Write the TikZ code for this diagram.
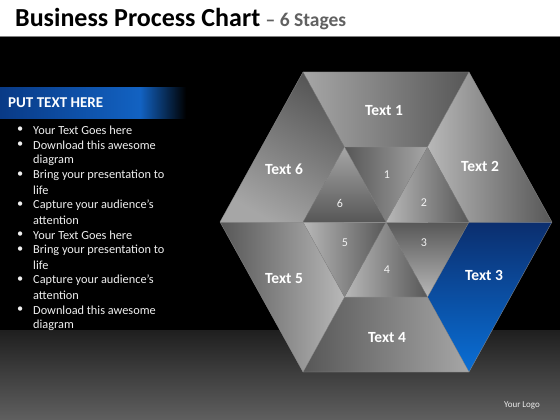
\documentclass[tikz,border=0pt]{standalone}
\usepackage{fontspec}
\setmainfont{Carlito}
\usetikzlibrary{calc,positioning}
\definecolor{navy}{HTML}{0B2E6E}
\definecolor{brightblue}{HTML}{0A6FD6}
\definecolor{barblue}{HTML}{1262C2}
\definecolor{bardark}{HTML}{093A86}
\definecolor{litegray}{HTML}{B8B8B8}
\definecolor{midgray}{HTML}{A6A6A6}
\definecolor{darkgray}{HTML}{575757}
\definecolor{seam}{HTML}{8C8C8C}
\tikzset{
  seamline/.style={draw=seam, line width=0.3pt},
  bigtext/.style={text=white, font=\fontsize{15.5}{15.5}\selectfont\bfseries},
  numtext/.style={text=white!90!gray, font=\fontsize{12}{12}\selectfont},
  itemtext/.style={text=white!88!gray, anchor=west, inner sep=0pt, font=\fontsize{12.3}{12.3}\selectfont}
}
\begin{document}
\begin{tikzpicture}[x=1pt,y=-1pt]
        \useasboundingbox (0,0) rectangle (560,420);
        \fill[white] (0,0) rectangle (560,36);
        \fill[black] (0,36) rectangle (560,420);
        \draw[gray, line width=0.8pt] (0,36.4) -- (560,36.4);
        \path[top color=black!88, bottom color=darkgray!95] (0,330) rectangle (560,420);

        \node (title) [anchor=base west, inner sep=0pt, font=\fontsize{26}{26}\selectfont\bfseries] at (15,27) {Business Process Chart};
        \node (stages) [right=5pt of title.base east, anchor=base west, inner sep=0pt, text=black!62, font=\fontsize{19.5}{19.5}\selectfont\bfseries] {– 6 Stages};

        \path[left color=bardark, right color=barblue] (0,88) rectangle (140,118);
        \path[left color=barblue, right color=black] (140,88) rectangle (186,118);
        \node (head) [anchor=west, inner sep=0pt, text=white, font=\fontsize{15}{15}\selectfont\bfseries] at (8,103) {PUT TEXT HERE};

        \foreach \y/\t [count=\i] in {130/Your Text Goes here, 145/Download this awesome, 160/diagram,
          175/Bring your presentation to, 190/life, 205/Capture your audience’s, 220/attention,
          235/Your Text Goes here, 250/Bring your presentation to, 265/life,
          280/Capture your audience’s, 295/attention, 310/Download this awesome, 325/diagram}
          \node (line\i) [itemtext] at (33,\y) {\t};
        \foreach \y [count=\i] in {130,145,175,205,235,250,280,310}
          \node (dot\i) [itemtext] at (17,\y) {•};

        \coordinate (C) at (386,222);
        \coordinate (O1) at (303,72);
        \coordinate (O2) at (469,72);
        \coordinate (O3) at (552,222);
        \coordinate (O4) at (469,372);
        \coordinate (O5) at (303,372);
        \coordinate (O6) at (220,222);
        \foreach \k in {1,...,6}
          \coordinate (I\k) at ($(C)!.5!(O\k)$);

        \path[left color=midgray, right color=darkgray] (O1) -- (O2) -- (I2) -- (I1) -- cycle;
        \path[left color=litegray, right color=darkgray] (O2) -- (O3) -- (I3) -- (I2) -- cycle;
        \path[top color=navy, bottom color=brightblue] (O3) -- (O4) -- (I4) -- (I3) -- cycle;
        \path[left color=darkgray, right color=midgray] (O4) -- (O5) -- (I5) -- (I4) -- cycle;
        \path[left color=darkgray, right color=litegray] (O5) -- (O6) -- (I6) -- (I5) -- cycle;
        \path[top color=darkgray, bottom color=midgray, shading angle=-30] (O6) -- (O1) -- (I1) -- (I6) -- cycle;

        \path[left color=darkgray, right color=midgray] (I1) -- (I2) -- (C) -- cycle;
        \path[left color=litegray, right color=darkgray] (I2) -- (I3) -- (C) -- cycle;
        \path[top color=darkgray, bottom color=litegray] (I3) -- (I4) -- (C) -- cycle;
        \path[left color=litegray, right color=darkgray] (I4) -- (I5) -- (C) -- cycle;
        \path[left color=litegray, right color=darkgray] (I5) -- (I6) -- (C) -- cycle;
        \path[top color=midgray, bottom color=darkgray] (I6) -- (I1) -- (C) -- cycle;

        \draw[seamline] (O1) -- (O2) -- (O3) -- (O4) -- (O5) -- (O6) -- cycle;
        \draw[seamline] (I1) -- (I2) -- (I3) -- (I4) -- (I5) -- (I6) -- cycle;
        \foreach \k in {1,...,6}
          \draw[seamline] (O\k) -- (I\k) -- (C);

        \node (t1) [bigtext] at (384,111) {Text 1};
        \node (t2) [bigtext] at (480,166) {Text 2};
        \node (t3) [bigtext] at (484,275) {Text 3};
        \node (t4) [bigtext] at (387,338) {Text 4};
        \node (t5) [bigtext] at (284,279) {Text 5};
        \node (t6) [bigtext] at (284,169) {Text 6};

        \node (n1) [numtext] at (387,175) {1};
        \node (n2) [numtext] at (424,203) {2};
        \node (n3) [numtext] at (424,243) {3};
        \node (n4) [numtext] at (387,270) {4};
        \node (n5) [numtext] at (345,243) {5};
        \node (n6) [numtext] at (340,203) {6};

        \node (logo) [text=white!85!gray, font=\fontsize{9}{9}\selectfont] at (522,405) {Your Logo};
      \end{tikzpicture}
\end{document}
